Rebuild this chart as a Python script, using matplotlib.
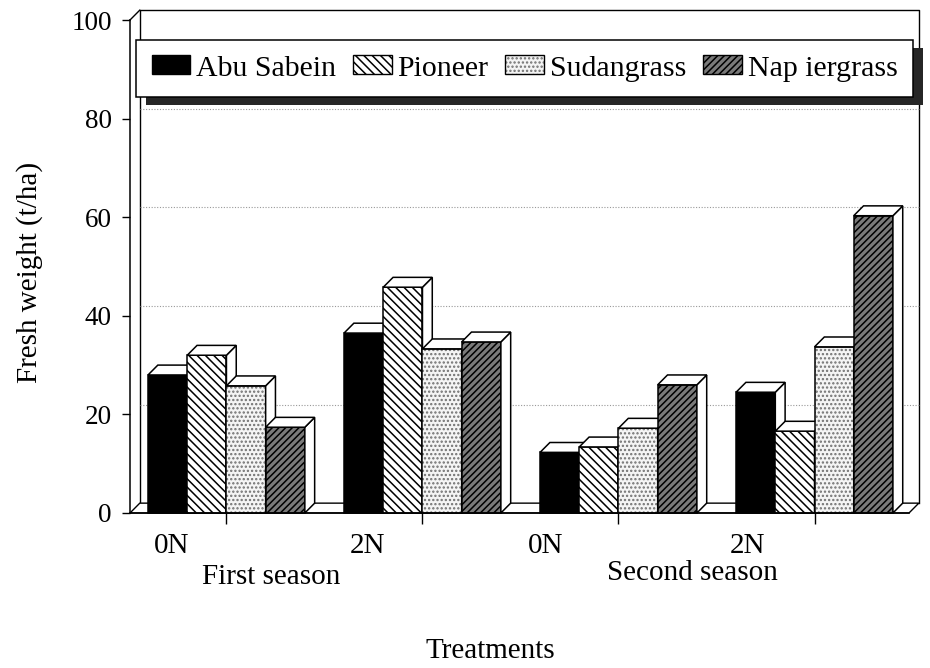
import matplotlib
matplotlib.use('Agg')
import matplotlib.pyplot as plt
from matplotlib.patches import Polygon, Rectangle, Patch

plt.rcParams['font.family'] = ['Liberation Serif', 'DejaVu Serif']
plt.rcParams['hatch.linewidth'] = 1.1

# Data (fresh weight, t/ha)
treatments = ['0N', '2N', '0N', '2N']
seasons = ['First season', 'Second season']
varieties = ['Abu Sabein', 'Pioneer', 'Sudangrass', 'Nap iergrass']
abu_sabein = [28.0, 36.5, 12.3, 24.5]
pioneer = [32.0, 45.8, 13.4, 16.6]
sudangrass = [25.8, 33.3, 17.2, 33.7]
napiergrass = [17.4, 34.7, 26.0, 60.3]
yticks = [0, 20, 40, 60, 80, 100]

series = [abu_sabein, pioneer, sudangrass, napiergrass]
# (facecolor, hatch, hatch colour)
styles = [
    ('black', None, 'black'),
    ('white', '\\\\\\\\', 'black'),
    ('#f4f4f4', '....', '#707070'),
    ('#7a7a7a', '/////', 'black'),
]

fig = plt.figure(figsize=(9.3, 6.68), dpi=100)
ax = fig.add_axes([130 / 930, 1 - 513 / 668, 779 / 930, 493 / 668])
ax.patch.set_visible(False)

x0, x1 = -0.46, 19.41
ax.set_xlim(x0, x1)
ax.set_ylim(0, 100)

# 3D depth offset in data units
dx, dy = 0.25, 2.0

# back wall, grid and left wall
wall = dict(color='black', lw=1.0, clip_on=False, zorder=1)
ax.plot([x0 + dx, x0 + dx, x1 + dx, x1 + dx], [dy, 100 + dy, 100 + dy, dy], **wall)
ax.plot([x0, x0 + dx], [100, 100 + dy], **wall)
for t in yticks[1:-1]:
    ax.plot([x0 + dx, x1 + dx], [t + dy, t + dy], color='#999999', lw=0.8,
            ls=(0, (1, 1.5)), clip_on=False, zorder=1)

# floor
ax.add_patch(Polygon([[x0, 0], [x1, 0], [x1 + dx, dy], [x0 + dx, dy]],
                     closed=True, facecolor='white', edgecolor='black', lw=1.0,
                     clip_on=False, zorder=2))

# bars, drawn left to right so later fronts cover earlier sides
z = 3
for g in range(len(treatments)):
    for i, vals in enumerate(series):
        fc, hatch, hc = styles[i]
        xl = 5 * g + i
        h = vals[g]
        ax.bar(xl, h, width=1, align='edge', facecolor=fc, hatch=hatch,
               edgecolor=hc, lw=0, zorder=z, clip_on=False)
        ax.bar(xl, h, width=1, align='edge', fill=False, edgecolor='black',
               lw=1.1, zorder=z + 0.05, clip_on=False)
        top = Polygon([[xl, h], [xl + 1, h], [xl + 1 + dx, h + dy], [xl + dx, h + dy]],
                      closed=True, facecolor='white', edgecolor='black', lw=1.1,
                      clip_on=False, zorder=z + 0.1)
        side = Polygon([[xl + 1, 0], [xl + 1, h], [xl + 1 + dx, h + dy], [xl + 1 + dx, dy]],
                       closed=True, facecolor='white', edgecolor='black', lw=1.1,
                       clip_on=False, zorder=z + 0.1)
        ax.add_patch(side)
        ax.add_patch(top)
        z += 1

# axes
for s in ['top', 'right']:
    ax.spines[s].set_visible(False)
ax.spines['left'].set_linewidth(1.1)
ax.spines['bottom'].set_linewidth(1.1)
ax.spines['left'].set_zorder(100)
ax.spines['bottom'].set_zorder(100)
ax.set_yticks(yticks)
ax.tick_params(axis='y', direction='out', length=6, width=1, labelsize=19.5, pad=7)
ax.set_xticks([2, 7, 12, 17])
ax.set_xticklabels([])
ax.tick_params(axis='x', direction='out', length=8, width=1)

trans = ax.get_xaxis_transform()
label_x = [0.59, 5.61, 10.13, 15.3]
for xx, t in zip(label_x, treatments):
    ax.text(xx, -0.066, t, transform=trans, ha='center', va='center', fontsize=21)
ax.text(3.14, -0.13, seasons[0], transform=trans, ha='center', va='center', fontsize=21)
ax.text(13.88, -0.122, seasons[1], transform=trans, ha='center', va='center', fontsize=21)

fig.text(30 / 930, 1 - 272 / 668, 'Fresh weight (t/ha)', rotation=90,
         ha='center', va='center', fontsize=21)
fig.text(490 / 930, 1 - 651 / 668, 'Treatments', ha='center', va='center', fontsize=21)

# legend with heavy shadow
lx0, lx1, ly0, ly1 = 136 / 930, 913 / 930, 1 - 97 / 668, 1 - 40 / 668
fig.patches.append(Rectangle((lx0 + 10 / 930, ly0 - 8 / 668), lx1 - lx0, ly1 - ly0,
                             transform=fig.transFigure, facecolor='#262626',
                             edgecolor='none', zorder=50))
handles = []
for (fc, hatch, hc) in styles:
    handles.append((Patch(facecolor=fc, hatch=hatch, edgecolor=hc, lw=0),
                    Patch(fill=False, edgecolor='black', lw=1.0)))
leg = fig.legend(handles, varieties, loc='center', ncol=4, mode='expand',
                 bbox_to_anchor=(lx0, ly0, lx1 - lx0, ly1 - ly0),
                 bbox_transform=fig.transFigure, borderaxespad=0, fontsize=21.5,
                 frameon=True, fancybox=False, handlelength=1.3, handleheight=0.6,
                 handletextpad=0.2, columnspacing=0.5, borderpad=0.52)
leg.set_zorder(60)
leg.get_frame().set_edgecolor('black')
leg.get_frame().set_linewidth(1.1)
leg.get_frame().set_alpha(1)

fig.savefig('out.png', dpi=100)
